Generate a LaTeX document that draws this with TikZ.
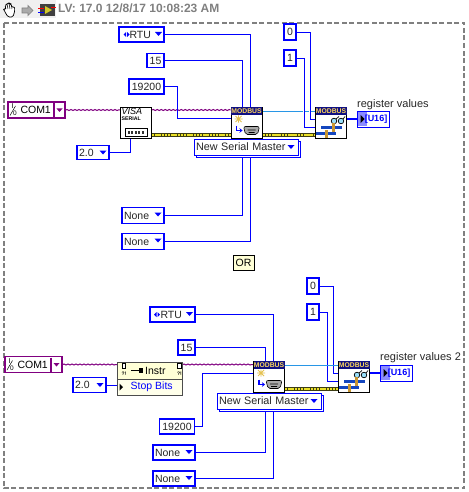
\documentclass[tikz,border=0pt]{standalone}
\usepackage{fontspec}
\setmainfont{Liberation Sans}
\usetikzlibrary{arrows.meta, backgrounds, decorations.pathmorphing}
\definecolor{wireblue}{RGB}{0, 0, 255}
\definecolor{refpurple}{RGB}{128, 0, 128}
\definecolor{clusterlight}{RGB}{40, 150, 230}
\definecolor{errorline}{RGB}{235, 225, 40}
\definecolor{errordark}{RGB}{60, 60, 20}
\definecolor{framegray}{RGB}{128, 128, 128}
\definecolor{barbg}{RGB}{240, 240, 240}
\definecolor{modbusnavy}{RGB}{16, 16, 130}
\definecolor{modbusgold}{RGB}{255, 215, 90}
\definecolor{propyellow}{RGB}{255, 255, 214}
\definecolor{sunken}{RGB}{170, 170, 170}
\definecolor{barblue}{RGB}{20, 70, 190}
\definecolor{barbrown}{RGB}{200, 150, 50}
\tikzset{
  constbox/.style={draw=wireblue, line width=1.6pt, fill=white, inner sep=0pt, font=\fontsize{10.5}{12}\selectfont, text=black!85},
  enumbox/.style={constbox, align=left, text width=#1, inner xsep=2pt},
  masterbox/.style={draw=wireblue, line width=0.8pt, fill=white, inner xsep=2pt, inner ysep=0pt, align=left, font=\fontsize{10.8}{12}\selectfont, text=black!85, minimum height=16pt},
  visabox/.style={draw=refpurple, line width=1.6pt, fill=white, inner sep=0pt, minimum height=16pt, font=\fontsize{10.5}{12}\selectfont},
  subvi/.style={draw=black, line width=0.9pt, fill=white, minimum width=31pt, minimum height=31pt, inner sep=0pt},
  wire/.style={wireblue, line width=0.8pt},
  gapwire/.style={wire, preaction={draw=white, line width=2.6pt}},
  refwire/.style={refpurple, line width=1pt, decorate, decoration={snake, amplitude=0.5pt, segment length=4pt}},
  clusterwire/.style={clusterlight, line width=0.8pt},
  errwire/.style={errordark, line width=3.2pt, postaction={draw=errorline, line width=2pt, dash pattern=on 2.5pt off 0.7pt}},
  indicator/.style={draw=wireblue, line width=0.8pt, fill=white, inner sep=0pt, minimum width=32pt, minimum height=16pt},
  caption/.style={font=\fontsize{11}{12}\selectfont, text=black!85, anchor=west, inner sep=0pt}
}
% dropdown mark
\newcommand{\dropmark}[2]{\fill[wireblue] (#1-3.5,#2-2) -- (#1+3.5,#2-2) -- (#1,#2+2) -- cycle;}
% ring mark left of the RTU text
\newcommand{\ringmark}[2]{
  \fill[wireblue] (#1-0.5,#2-2.5) -- (#1-0.5,#2+2.5) -- (#1-3,#2) -- cycle;
  \fill[wireblue] (#1+0.5,#2-2.5) -- (#1+0.5,#2+2.5) -- (#1+3,#2) -- cycle;
}
% top band and picture of the serial init vi
\newcommand{\modbushead}[2]{
  \fill[modbusnavy] (#1-15.5,#2-15.5) rectangle (#1+15.5,#2-7.5);
  \node[font=\fontsize{6.8}{7}\bfseries\selectfont, text=modbusgold, inner sep=0pt] at (#1,#2-11.4) {MODBUS};
}
\newcommand{\serialicon}[2]{
  \modbushead{#1}{#2}
  \draw[modbusgold!90!black, line width=0.9pt] (#1-12,#2-3.5) -- (#1-4,#2-3.5) (#1-8,#2-7) -- (#1-8,#2) (#1-11,#2-6.5) -- (#1-5,#2-0.5) (#1-5,#2-6.5) -- (#1-11,#2-0.5);
  \draw[wireblue, line width=1.4pt, -{Stealth[length=3pt,width=4.5pt]}] (#1-10,#2+3) -- (#1-10,#2+8) -- (#1-4,#2+8);
  \draw[black, fill=sunken, rounded corners=2pt, line width=0.6pt] (#1-3,#2+4) -- (#1+13,#2+4) -- (#1+11,#2+12) -- (#1-1,#2+12) -- cycle;
  \fill[black] (#1+1,#2+7) rectangle (#1+9,#2+7.8) (#1+2,#2+9.5) rectangle (#1+8,#2+10.3);
}
\newcommand{\readicon}[2]{
  \modbushead{#1}{#2}
  \draw[black, fill=cyan!40, line width=0.7pt] (#1+3,#2-1.5) circle (2.8pt) (#1+10,#2-1.5) circle (2.8pt);
  \draw[black, line width=0.7pt] (#1+5,#2-3.5) -- (#1+8,#2-6) (#1+12,#2-3.5) -- (#1+14,#2-6);
  \fill[barblue] (#1-10,#2+3) rectangle (#1+11,#2+6.5);
  \fill[barblue] (#1-15,#2+9) rectangle (#1+5,#2+12.5);
  \fill[barbrown] (#1+1,#2) rectangle (#1+3.5,#2+9);
  \fill[barbrown] (#1-6,#2+7) rectangle (#1-3.5,#2+15);
}
\newcommand{\arraylabel}[2]{
  \fill[wireblue!45] (#1-15,#2-7) rectangle (#1-6,#2+7);
  \fill[black] (#1-12.5,#2-4) -- (#1-12.5,#2+4) -- (#1-8.5,#2) -- cycle;
  \node[font=\fontsize{9}{10}\bfseries\selectfont, text=wireblue, inner sep=0pt] at (#1+3,#2) {[U16]};
}
\begin{document}
\begin{tikzpicture}[x=1pt, y=-1pt, >=Stealth]
  \useasboundingbox (0,0) rectangle (468,492);

  % Title bar
  \fill[barbg] (0,0) rectangle (56,18);
  \draw[black, line width=0.7pt, rounded corners=1.5pt, fill=white] (3,8) -- (5,12) -- (8,17) -- (13,17) -- (15,10) -- (14,6) -- (12,8) -- (11,4) -- (9,3) -- (7,4) -- (5,5) -- (6,10) -- cycle;
  \draw[black, line width=0.5pt] (7,4) -- (8,9) (9,3) -- (10,9) (11.5,5) -- (12,9);
  \draw[framegray, fill=sunken, line width=0.7pt] (22,8) -- (28,8) -- (28,5.5) -- (33,10.5) -- (28,15.5) -- (28,13) -- (22,13) -- cycle;
  \fill[black!75] (40,4) rectangle (55,16);
  \fill[yellow!80!black] (45,6) -- (52,10) -- (45,14) -- cycle;
  \draw[red, line width=0.8pt] (38,8) -- (44,8) (51,7) -- (56,7);
  \draw[wireblue, line width=0.8pt] (38,12) -- (44,12);
  \node[font=\fontsize{12}{13}\bfseries\selectfont, text=framegray, anchor=west, inner sep=0pt] (stamp) at (58,8) {LV: 17.0 12/8/17 10:08:23 AM};

  % Frame of the diagram
  \draw[framegray, line width=1.6pt, dash pattern=on 5pt off 2.5pt] (4,23) rectangle (464,488);

  % First way: constants
  \node[constbox, minimum width=45pt, minimum height=15pt, align=left, text width=41pt, inner xsep=2pt] (rtutop) at (141.5,34.5) {\hspace*{8.5pt}RTU};
  \node[constbox, minimum width=17pt, minimum height=14pt] (stoptop) at (155.5,60.5) {15};
  \node[constbox, minimum width=35pt, minimum height=15pt] (baudtop) at (146.5,86.5) {19200};
  \node[visabox, minimum width=57pt, align=left, text width=53pt, inner xsep=2pt] (comtop) at (36.5,110) {\hspace*{10.5pt}COM1};
  \node[enumbox=28pt, minimum height=14pt] (twotop) at (93,152.5) {2.0};
  \node[enumbox=38pt, minimum height=16pt] (nonetopa) at (143,215.5) {None};
  \node[enumbox=38pt, minimum height=16pt] (nonetopb) at (143,241.5) {None};
  \node[constbox, minimum width=12pt, minimum height=16pt] (zerotop) at (290,32) {0};
  \node[constbox, minimum width=12pt, minimum height=16pt] (onetop) at (290,58) {1};

  % First way: function blocks
  \node[subvi] (visatop) at (136,122.5) {};
  \node[subvi] (inittop) at (246.5,122.5) {};
  \node[subvi] (readtop) at (331,122.5) {};
  \node[font=\fontsize{9}{9}\itshape\selectfont, inner sep=0pt, anchor=west] at (121.5,111.5) {VISA};
  \node[font=\fontsize{5.2}{6}\bfseries\selectfont, inner sep=0pt, anchor=west] at (121.5,119) {SERIAL};
  \draw[black, line width=0.7pt] (125.5,128.5) rectangle (147,136);
  \foreach \n in {127.5,131,134.5,138,141.5}
    \fill[black!80] (\n,130.5) rectangle (\n+2.2,134.2);
  \serialicon{246.5}{122.5}
  \readicon{331}{122.5}
  \node[masterbox, text width=100pt, draw=wireblue] at (248,149) {};
  \node[masterbox, text width=100pt] (modetop) at (246,147) {New Serial Master};

  % First way: output
  \node[indicator] (outtop) at (373,119) {};
  \arraylabel{373}{119}
  \node[caption] (labeltop) at (357,104.5) {register values};

  % The word between both ways
  \node[draw=black, fill=propyellow, line width=0.7pt, inner sep=0pt, minimum width=21pt, minimum height=15pt, font=\fontsize{10.5}{12}\selectfont] (ornote) at (243.5,262.5) {OR};

  % Second way: constants
  \node[constbox, minimum width=45pt, minimum height=15pt, align=left, text width=41pt, inner xsep=2pt] (rtubot) at (172.5,314.5) {\hspace*{8.5pt}RTU};
  \node[constbox, minimum width=17pt, minimum height=15pt] (stopbot) at (186.5,347.5) {15};
  \node[visabox, minimum width=57pt, align=left, text width=53pt, inner xsep=2pt] (combot) at (33.5,364.5) {\hspace*{10.5pt}COM1};
  \node[enumbox=29pt, minimum height=15pt] (twobot) at (89.5,385) {2.0};
  \node[constbox, minimum width=35pt, minimum height=15pt] (baudbot) at (177,426.5) {19200};
  \node[enumbox=38pt, minimum height=15pt] (nonebota) at (174,452.5) {None};
  \node[enumbox=38pt, minimum height=15pt] (nonebotb) at (174,478.5) {None};
  \node[constbox, minimum width=12pt, minimum height=16pt] (zerobot) at (313,286) {0};
  \node[constbox, minimum width=12pt, minimum height=16pt] (onebot) at (313,312) {1};

  % Second way: property node and function blocks
  \node[draw=black!70, fill=propyellow, line width=0.7pt, minimum width=65pt, minimum height=17pt, inner sep=0pt] (instr) at (150,370.5) {};
  \node[draw=black!70, fill=propyellow!50, line width=0.7pt, minimum width=65pt, minimum height=16pt, inner sep=0pt] (stopprop) at (150,387) {};
  \node[font=\fontsize{10.5}{12}\selectfont, inner sep=0pt, anchor=west] at (145,370.5) {Instr};
  \node[font=\fontsize{10.5}{12}\selectfont, text=wireblue, inner sep=0pt, anchor=west] at (130.5,387) {Stop Bits};
  \fill[black] (119.5,383.5) -- (119.5,390.5) -- (123,387) -- cycle;
  \draw[black, line width=1.6pt] (131,370.5) -- (139,370.5);
  \fill[black] (139,368) rectangle (143,373);
  \foreach \n in {122,177.5}{
    \draw[black, fill=white, line width=0.6pt] (\n,363.5) rectangle (\n+3.5,368);
    \node[font=\fontsize{5}{5}\bfseries\selectfont, inner sep=0pt] at (\n+2,374) {?!};
  }
  \node[subvi] (initbot) at (269,376.5) {};
  \node[subvi] (readbot) at (354,376.5) {};
  \serialicon{269}{376.5}
  \readicon{354}{376.5}
  \node[masterbox, text width=100pt, draw=wireblue] at (271,403) {};
  \node[masterbox, text width=100pt] (modebot) at (269,401) {New Serial Master};

  % Second way: output
  \node[indicator] (outbot) at (396,373) {};
  \arraylabel{396}{373}
  \node[caption] (labelbot) at (380,358) {register values 2};

  % COM1 and dropdown marks
  \foreach \x/\y in {54/110, 51/364.5}{
    \draw[refpurple, line width=1.2pt] (\x,\y-7) -- (\x,\y+7);
    \fill[refpurple] (\x+2.5,\y-1.5) -- (\x+8.5,\y-1.5) -- (\x+5.5,\y+2) -- cycle;
    \node[font=\fontsize{7}{7}\selectfont, inner sep=0pt] at (\x-41.5,\y-3.5) {I};
    \node[font=\fontsize{6.5}{7}\selectfont, inner sep=0pt] at (\x-39,\y+3.5) {0};
    \draw[black, line width=0.5pt] (\x-44,\y+5.5) -- (\x-38.5,\y-4);
  }
  \dropmark{158.5}{34}
  \dropmark{189.5}{314}
  \dropmark{103}{152.5}
  \dropmark{100}{385}
  \dropmark{158}{214.5}
  \dropmark{158}{240.5}
  \dropmark{189}{452}
  \dropmark{189}{478}
  \dropmark{291}{147}
  \dropmark{314}{401}
  \ringmark{126.5}{34.5}
  \ringmark{157}{314.5}

  % Wires go behind the blocks
  \begin{scope}[on background layer]
    \draw[refwire] (comtop.east) -- (visatop.west |- comtop.east);
    \draw[refwire] (visatop.east |- comtop.east) -- (inittop.west |- comtop.east);
    \draw[errwire] (visatop.east |- 0,135) -- (inittop.west |- 0,135);
    \draw[errwire] (inittop.east |- 0,135) -- (readtop.west |- 0,135);
    \draw[clusterwire] (inittop.east |- 0,111) -- (readtop.west |- 0,111);
    \draw[wire] (twotop.east) -| ([xshift=-6pt]visatop.south);
    \draw[wire] (rtutop.east) -| ([xshift=4pt]inittop.north);
    \draw[wire] (stoptop.east) -| ([xshift=-4pt]inittop.north);
    \draw[wire] (baudtop.east) -- (177,86.5) |- (inittop.west |- 0,118);
    \draw[wire] (nonetopa.east) -| ([xshift=-4pt]inittop.south);
    \draw[wire] (nonetopb.east) -| ([xshift=4pt]inittop.south);
    \draw[gapwire] (zerotop.east) -- (310,32) |- (readtop.west |- 0,119);
    \draw[gapwire] (onetop.east) -- (304,58) |- (readtop.west |- 0,127);
    \draw[wireblue, line width=1.6pt] (readtop.east |- outtop.west) -- (outtop.west);

    \draw[refwire] (combot.east) -- (instr.west |- combot.east);
    \draw[refwire] (instr.east |- combot.east) -- (initbot.west |- combot.east);
    \draw[errwire] (initbot.east |- 0,389) -- (readbot.west |- 0,389);
    \draw[wire] (twobot.east) -- (stopprop.west |- twobot.east);
    \draw[wire] (rtubot.east) -| ([xshift=4pt]initbot.north);
    \draw[wire] (stopbot.east) -| ([xshift=-3.5pt]initbot.north);
    \draw[wire] (baudbot.east) -- (202.5,426.5) |- (initbot.west |- 0,373);
    \draw[wire] (nonebota.east) -| ([xshift=-3.5pt]initbot.south);
    \draw[wire] (nonebotb.east) -| ([xshift=4pt]initbot.south);
    \draw[wire] (zerobot.east) -- (333.5,286) |- (readbot.west |- 0,373);
    \draw[wire] (onebot.east) -- (327,312) |- (readbot.west |- 0,381);
    \draw[clusterwire] (initbot.east |- 0,365) -- (readbot.west |- 0,365);
    \draw[wireblue, line width=1.6pt] (readbot.east |- outbot.west) -- (outbot.west);
  \end{scope}
\end{tikzpicture}
\end{document}
